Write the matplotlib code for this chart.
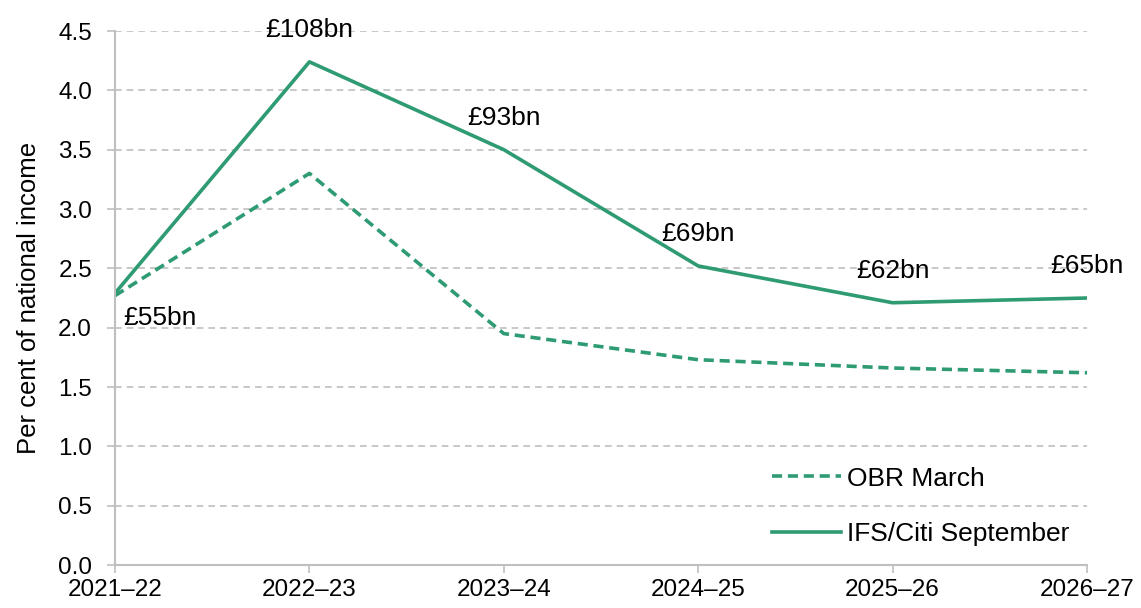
import matplotlib
matplotlib.use("Agg")
import matplotlib.pyplot as plt

years = ["2021–22", "2022–23", "2023–24", "2024–25", "2025–26", "2026–27"]
obr_march = [2.27, 3.30, 1.95, 1.73, 1.66, 1.62]
ifs_sept = [2.29, 4.24, 3.50, 2.52, 2.21, 2.25]
labels = ["£55bn", "£108bn", "£93bn", "£69bn", "£62bn", "£65bn"]

plt.rcParams['font.family'] = ['Liberation Sans', 'DejaVu Sans']
green = '#2e9b72'
grey = '#bfbfbf'

fig = plt.figure(figsize=(11.41, 6.08), dpi=100)
ax = fig.add_axes([115/1141, 1-565/608, (1087-115)/1141, (565-31)/608])
x = list(range(len(years)))
ax.plot(x, obr_march, color=green, lw=2.6, ls=(0, (2.8, 1.6)), label="OBR March")
ax.plot(x, ifs_sept, color=green, lw=2.6, label="IFS/Citi September")

for i, (xi, yi, lab) in enumerate(zip(x, ifs_sept, labels)):
    if i == 0:
        ax.annotate(lab, (xi, yi), xytext=(45, -25), textcoords='offset pixels',
                    ha='center', va='center', fontsize=19)
    else:
        ax.annotate(lab, (xi, yi), xytext=(0, 32), textcoords='offset pixels',
                    ha='center', va='center', fontsize=19)

ax.set_xlim(0, len(years)-1)
ax.set_ylim(0, 4.5)
ax.set_yticks([i*0.5 for i in range(10)])
ax.set_yticklabels([f"{i*0.5:.1f}" for i in range(10)])
ax.set_xticks(x)
ax.set_xticklabels(years)
ax.tick_params(axis='both', labelsize=17.5, color=grey, length=6, width=1.2)
ax.tick_params(axis='x', pad=4)
ax.tick_params(axis='y', pad=10.5)
ax.set_ylabel("Per cent of national income", fontsize=18.5, labelpad=12)
ax.yaxis.grid(True, ls=(0, (4, 3)), color=grey, lw=1.2)
ax.set_axisbelow(True)
for s in ['top', 'right']:
    ax.spines[s].set_visible(False)
for s in ['left', 'bottom']:
    ax.spines[s].set_color(grey)
    ax.spines[s].set_linewidth(1.5)

leg = ax.legend(loc='lower left', bbox_to_anchor=((772-115)/972, 0.035), frameon=False,
                fontsize=19, handlelength=2.6, labelspacing=1.2, handletextpad=0.25,
                borderpad=0, borderaxespad=0)
fig.savefig("out.png", dpi=100)
